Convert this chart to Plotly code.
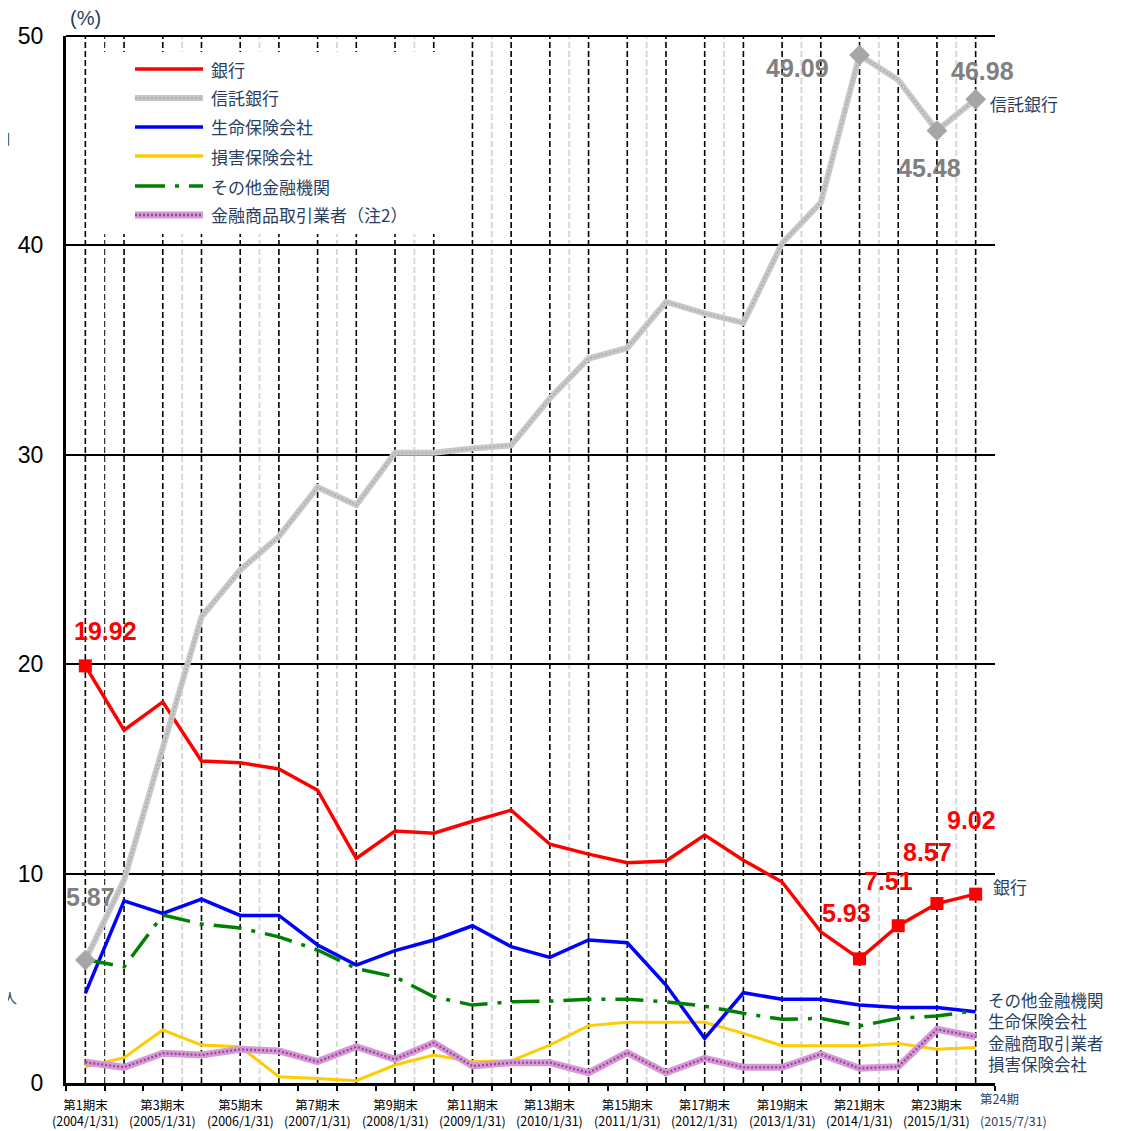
import plotly.graph_objects as go

# 期末ごとの投資部門別保有比率 (%)
periods = list(range(1, 25))
tick_periods = ["第1期末", "第3期末", "第5期末", "第7期末", "第9期末", "第11期末",
                "第13期末", "第15期末", "第17期末", "第19期末", "第21期末", "第23期末"]
tick_dates = ["(2004/1/31)", "(2005/1/31)", "(2006/1/31)", "(2007/1/31)", "(2008/1/31)",
              "(2009/1/31)", "(2010/1/31)", "(2011/1/31)", "(2012/1/31)", "(2013/1/31)",
              "(2014/1/31)", "(2015/1/31)"]
last_period = "第24期"
last_date = "(2015/7/31)"

bank = [19.92, 16.85, 18.2, 15.38, 15.29, 15.0, 13.98, 10.72, 12.03, 11.93, 12.5, 13.03,
        11.4, 10.93, 10.52, 10.6, 11.84, 10.64, 9.6, 7.22, 5.93, 7.51, 8.57, 9.02]
trust_bank = [5.87, 9.69, 16.0, 22.26, 24.5, 26.1, 28.45, 27.6, 30.1, 30.1, 30.3, 30.45,
              32.7, 34.6, 35.1, 37.3, 36.75, 36.3, 40.1, 42.05, 49.09, 47.9, 45.48, 46.98]
life_ins = [4.28, 8.7, 8.1, 8.78, 8.0, 8.0, 6.59, 5.63, 6.32, 6.83, 7.51, 6.51,
            6.0, 6.83, 6.7, 4.68, 2.13, 4.31, 4.0, 4.0, 3.72, 3.61, 3.61, 3.4]
nonlife_ins = [0.78, 1.21, 2.53, 1.81, 1.73, 0.3, 0.22, 0.11, 0.86, 1.34, 1.02, 1.06,
               1.81, 2.74, 2.9, 2.9, 2.9, 2.37, 1.78, 1.78, 1.78, 1.89, 1.61, 1.7]
other_fin = [5.9, 5.55, 8.02, 7.59, 7.4, 6.98, 6.35, 5.47, 5.07, 4.12, 3.72, 3.88,
             3.91, 4.0, 4.0, 3.88, 3.67, 3.33, 3.04, 3.09, 2.72, 3.09, 3.2, 3.45]
securities = [0.99, 0.75, 1.42, 1.34, 1.61, 1.53, 1.02, 1.73, 1.13, 1.92, 0.81, 0.97,
              0.97, 0.49, 1.45, 0.49, 1.18, 0.75, 0.75, 1.38, 0.7, 0.78, 2.56, 2.21]

legend_names = ["銀行", "信託銀行", "生命保険会社", "損害保険会社", "その他金融機関", "金融商品取引業者（注2）"]
right_labels = ["その他金融機関", "生命保険会社", "金融商取引業者", "損害保険会社"]

# 値ラベル・マーカーを付ける期
bank_marks = [0, 20, 21, 22, 23]
trust_marks = [0, 20, 22, 23]

RED = "#ff0000"
GRAY = "#c8c8c8"
GRAY_DOT = "#b0b0b0"
BLUE = "#0000ff"
YELLOW = "#ffcc00"
GREEN = "#008000"
PURPLE = "#d49ad4"
PURPLE_DOT = "#a040a0"
JP = "Noto Sans CJK JP"
AR = "Arial, Liberation Sans, sans-serif"

# plot area in page pixels (for decorations only); page body has an 8px margin
OFF = 8
L, R, T, B = 66, 995, 36, 1083
FIG_W, FIG_H = 1121 - OFF, 1131 - OFF


def px(x):
    return (x - L) / (R - L)


def py(y):
    return (B - y) / (B - T)


x = list(range(len(periods)))
fig = go.Figure()

shapes = []
# vertical dashed lines at every period
for i in x:
    shapes.append(dict(type="line", xref="x", yref="paper", x0=i, x1=i, y0=0, y1=1,
                       line=dict(color="black", width=1.6, dash="6px,3px"), layer="below"))
shapes.append(dict(type="line", xref="x", yref="paper", x0=0.5, x1=0.5, y0=0, y1=1,
                   line=dict(color="black", width=1, dash="6px,3px"), layer="below"))
for i in range(2, len(periods), 2):
    shapes.append(dict(type="line", xref="x", yref="paper", x0=i + 0.5, x1=i + 0.5, y0=0, y1=1,
                       line=dict(color="#d8d8d8", width=2, dash="6px,3px"), layer="below"))
# top border
shapes.append(dict(type="line", xref="paper", yref="paper", x0=0, x1=1, y0=1, y1=1,
                   line=dict(color="black", width=2)))
# legend background
shapes.append(dict(type="rect", xref="paper", yref="paper", x0=px(95), x1=px(440),
                   y0=py(234), y1=py(52), fillcolor="white", line=dict(width=0), layer="below"))


def textured(y, base, dot, width, name):
    fig.add_trace(go.Scatter(x=x, y=y, mode="lines", name=name, showlegend=False,
                             line=dict(color=base, width=width)))
    fig.add_trace(go.Scatter(x=x, y=y, mode="lines", showlegend=False, hoverinfo="skip",
                             line=dict(color=dot, width=width / 3, dash="2px,2px")))


fig.add_trace(go.Scatter(x=x, y=nonlife_ins, mode="lines", name=legend_names[3], showlegend=False,
                         line=dict(color=YELLOW, width=3)))
textured(securities, PURPLE, PURPLE_DOT, 7, legend_names[5])
fig.add_trace(go.Scatter(x=x, y=life_ins, mode="lines", name=legend_names[2], showlegend=False,
                         line=dict(color=BLUE, width=3.5)))
fig.add_trace(go.Scatter(x=x, y=other_fin, mode="lines", name=legend_names[4], showlegend=False,
                         line=dict(color=GREEN, width=3.5, dash="28px,10px,4px,10px")))
fig.add_trace(go.Scatter(x=x, y=bank, mode="lines", name=legend_names[0], showlegend=False,
                         line=dict(color=RED, width=3.5)))
fig.add_trace(go.Scatter(x=[x[i] for i in bank_marks], y=[bank[i] for i in bank_marks],
                         mode="markers", showlegend=False,
                         marker=dict(symbol="square", size=13, color=RED)))
textured(trust_bank, GRAY, GRAY_DOT, 6, legend_names[1])
fig.add_trace(go.Scatter(x=[x[i] for i in trust_marks], y=[trust_bank[i] for i in trust_marks],
                         mode="markers", showlegend=False,
                         marker=dict(symbol="diamond", size=16, color="#a6a6a6")))

ann = []
# value labels
bank_lbl = [(0, 20, 35), (20, -13, 46), (21, -10, 45), (22, -9, 52), (23, -4, 74)]
for i, dx, dy in bank_lbl:
    ann.append(dict(x=x[i], y=bank[i], xref="x", yref="y", text=f"{bank[i]:.2f}", showarrow=False,
                    xshift=dx, yshift=dy, font=dict(family=AR, size=25, color=RED, weight="bold")))
trust_lbl = [(0, 5, 63), (20, -62, -13), (22, -7, -37), (23, 7, 28)]
for i, dx, dy in trust_lbl:
    ann.append(dict(x=x[i], y=trust_bank[i], xref="x", yref="y", text=f"{trust_bank[i]:.2f}",
                    showarrow=False, xshift=dx, yshift=dy,
                    font=dict(family=AR, size=25, color="#808080", weight="bold")))

# x tick labels (odd periods)
for k, (p, d) in enumerate(zip(tick_periods, tick_dates)):
    ann.append(dict(x=2 * k, y=0, xref="x", yref="paper", xanchor="center", yanchor="top",
                    yshift=-10, text=f"{p}<br>{d}", showarrow=False,
                    font=dict(family=JP, size=12.5, color="black")))
ann.append(dict(x=x[-1], y=0, xref="x", yref="paper", xanchor="left", yanchor="top", xshift=2,
                yshift=-4, text=last_period, showarrow=False, font=dict(family=JP, size=12.5)))
ann.append(dict(x=x[-1], y=0, xref="x", yref="paper", xanchor="left", yanchor="top", xshift=2,
                yshift=-26, text=last_date, showarrow=False, font=dict(family=JP, size=12.5)))

# right-side series labels
ann.append(dict(x=x[-1], y=trust_bank[-1], xref="x", yref="y", xanchor="left", yanchor="middle",
                xshift=12, yshift=-4, text="信託銀行", showarrow=False, font=dict(family=JP, size=17)))
ann.append(dict(x=x[-1], y=bank[-1], xref="x", yref="y", xanchor="left", yanchor="middle",
                xshift=15, yshift=8, text="銀行", showarrow=False, font=dict(family=JP, size=17)))
for k, t in enumerate(right_labels):
    ann.append(dict(x=px(986), y=py(1000 + 21.3 * k), xref="paper", yref="paper", xanchor="left",
                    yanchor="middle", text=t, showarrow=False, font=dict(family=JP, size=16.5)))

# unit label
ann.append(dict(x=px(85), y=py(18), xref="paper", yref="paper", xanchor="center", yanchor="middle",
                text="(%)", showarrow=False, font=dict(family=AR, size=20)))
# clipped text from the left margin
ann.append(dict(x=px(12), y=py(138), xref="paper", yref="paper", xanchor="right", yanchor="middle",
                text="関", showarrow=False, font=dict(family=JP, size=14)))
ann.append(dict(x=px(19), y=py(997), xref="paper", yref="paper", xanchor="right", yanchor="middle",
                text="法人", showarrow=False, font=dict(family=JP, size=14)))

# manual legend
leg_rows = [69, 98, 127, 156, 186, 215]
styles = [dict(color=RED, width=3.5), dict(color=GRAY, width=6), dict(color=BLUE, width=3.5),
          dict(color=YELLOW, width=3.5), dict(color=GREEN, width=3.5, dash="30px,10px,4px,10px"),
          dict(color=PURPLE, width=7)]
for name, yrow, st in zip(legend_names, leg_rows, styles):
    shapes.append(dict(type="line", xref="paper", yref="paper", x0=px(135), x1=px(203),
                       y0=py(yrow), y1=py(yrow), line=st))
    ann.append(dict(x=px(209), y=py(yrow), xref="paper", yref="paper", xanchor="left",
                    yanchor="middle", text=name, showarrow=False, font=dict(family=JP, size=17)))
for yrow, dot in [(98, GRAY_DOT), (215, PURPLE_DOT)]:
    shapes.append(dict(type="line", xref="paper", yref="paper", x0=px(135), x1=px(203),
                       y0=py(yrow), y1=py(yrow), line=dict(color=dot, width=2.3, dash="2px,2px")))

fig.update_layout(
    width=FIG_W, height=FIG_H,
    margin=dict(l=L - OFF, r=FIG_W - (R - OFF), t=T - OFF, b=FIG_H - (B - OFF)),
    plot_bgcolor="white", paper_bgcolor="white",
    showlegend=False,
    shapes=shapes, annotations=ann,
    xaxis=dict(range=[-0.5, 23.5], tickvals=[k - 0.5 for k in range(25)], ticks="outside",
               ticklen=5, tickwidth=1.5, tickcolor="black", showticklabels=False, automargin=False,
               showline=True, linecolor="black", linewidth=3, showgrid=False, zeroline=False),
    yaxis=dict(range=[0, 50], dtick=10, showline=True, linecolor="black", linewidth=3,
               showgrid=True, gridcolor="black", gridwidth=2, zeroline=False, ticks="",
               automargin=False, ticklabelstandoff=15,
               tickfont=dict(family=AR, size=23, color="black")),
)

fig.write_html("out.html")
